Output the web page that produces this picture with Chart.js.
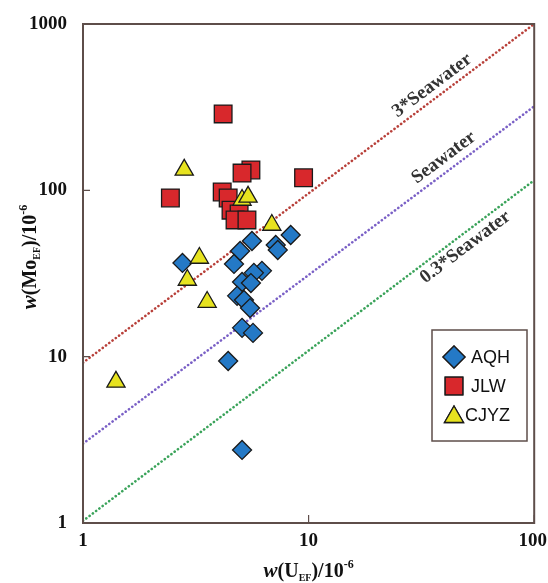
<!DOCTYPE html>
<html>
<head>
<meta charset="utf-8">
<script src="https://cdn.jsdelivr.net/npm/chart.js@4.4.1/dist/chart.umd.min.js"></script>
<style>
  html, body { margin: 0; padding: 0; background: #fff; }
</style>
</head>
<body>
<canvas id="chart" width="548" height="583"></canvas>
<script>
// AQH (diamonds)
const aqhU  = [5.61, 4.97, 4.67, 8.33, 7.15, 7.30, 2.76, 6.21, 5.72, 5.07, 5.55, 4.82, 5.17, 5.50, 5.07, 5.67, 4.40, 5.07];
const aqhMo = [49.6, 43.2, 36.1, 53.9, 46.9, 43.8, 36.6, 32.8, 31.9, 28.1, 27.7, 23.2, 21.9, 19.6, 14.9, 13.9, 9.42, 2.75];
// JLW (squares)
const jlwU  = [4.18, 2.44, 5.55, 5.07, 9.5, 4.14, 4.40, 4.53, 4.92, 4.72, 5.33];
const jlwMo = [288, 90, 132.6, 127, 119, 97.8, 90, 76, 72.1, 66.4, 66.4];
// CJYZ (triangles)
const cjyzU  = [2.81, 5.07, 5.39, 6.87, 3.28, 2.90, 3.55, 1.40];
const cjyzMo = [132.7, 87.5, 91.3, 61.9, 39.2, 28.9, 21.3, 7.05];

// reference lines
const lineU = [1, 100];
const sw3Mo = [9.2, 1000];
const swMo = [3.0, 320];
const sw03Mo = [1.03, 115];

const xTicks = [1, 10, 100];
const yTicks = [1, 10, 100, 1000];

const frameColor = '#5e4e4a';
const serif = '"Liberation Serif", "DejaVu Serif", serif';

function pts(xs, ys) {
    return xs.map((x, i) => ({ x: x, y: ys[i] }));
}

function lineSet(ys, color) {
    return {
        type: 'line',
        data: pts(lineU, ys),
        borderColor: color,
        borderWidth: 2.6,
        borderDash: [0.1, 4],
        borderCapStyle: 'round',
        pointRadius: 0,
        fill: false
    };
}

// draws text parts with sub/superscripts, centered at (cx, cy)
function drawRich(ctx, parts, cx, cy) {
    let total = 0;
    parts.forEach(p => { ctx.font = p.font; total += ctx.measureText(p.text).width; });
    let x = cx - total / 2;
    ctx.textAlign = 'left';
    ctx.textBaseline = 'alphabetic';
    parts.forEach(p => {
        ctx.font = p.font;
        ctx.fillText(p.text, x, cy + (p.dy || 0));
        x += ctx.measureText(p.text).width;
    });
}

function titleParts(el) {
    return [
        { text: 'w', font: 'italic bold 21px ' + serif },
        { text: '(' + el, font: 'bold 20px ' + serif },
        { text: 'EF', font: 'bold 10px ' + serif, dy: 4 },
        { text: ')/10', font: 'bold 20px ' + serif },
        { text: '-6', font: 'bold 12px ' + serif, dy: -9 }
    ];
}

const decorPlugin = {
    id: 'decor',
    afterDatasetsDraw(chart) {
        const ctx = chart.ctx;
        const a = chart.chartArea;
        const xs = chart.scales.x, ys = chart.scales.y;
        ctx.save();
        // frame
        ctx.strokeStyle = frameColor;
        ctx.lineWidth = 2;
        ctx.strokeRect(a.left, a.top, a.right - a.left, a.bottom - a.top);
        // inward ticks
        ctx.lineWidth = 1.2;
        ctx.beginPath();
        xTicks.forEach(v => {
            const px = xs.getPixelForValue(v);
            ctx.moveTo(px, a.bottom);
            ctx.lineTo(px, a.bottom - 8);
        });
        yTicks.forEach(v => {
            const py = ys.getPixelForValue(v);
            ctx.moveTo(a.left, py);
            ctx.lineTo(a.left + 7, py);
        });
        ctx.stroke();

        // x tick labels
        ctx.fillStyle = '#111';
        ctx.font = 'bold 19px ' + serif;
        ctx.textBaseline = 'middle';
        ctx.textAlign = 'center';
        xTicks.forEach(v => {
            const label = String(v);
            const w = ctx.measureText(label).width;
            let px = xs.getPixelForValue(v);
            px = Math.min(px, chart.width - w / 2 - 1);
            ctx.fillText(label, px, a.bottom + 18);
        });

        // line labels, placed along each line
        const labels = [
            { ys: sw3Mo, text: '3*Seawater', at: 38, off: 12 },
            { ys: swMo, text: 'Seawater', at: 43, off: 13 },
            { ys: sw03Mo, text: '0.3*Seawater', at: 46, off: -12 }
        ];
        ctx.fillStyle = '#333';
        ctx.font = 'bold 19px ' + serif;
        labels.forEach(l => {
            const x1 = xs.getPixelForValue(lineU[0]), y1 = ys.getPixelForValue(l.ys[0]);
            const x2 = xs.getPixelForValue(lineU[1]), y2 = ys.getPixelForValue(l.ys[1]);
            const ang = Math.atan2(y2 - y1, x2 - x1);
            const px = xs.getPixelForValue(l.at);
            const t = (px - x1) / (x2 - x1);
            const py = y1 + t * (y2 - y1);
            ctx.save();
            ctx.translate(px + Math.sin(ang) * l.off, py - Math.cos(ang) * l.off);
            ctx.rotate(ang);
            ctx.textAlign = 'center';
            ctx.textBaseline = 'middle';
            ctx.fillText(l.text, 0, 0);
            ctx.restore();
        });

        // axis titles
        ctx.fillStyle = '#111';
        drawRich(ctx, titleParts('U'), (a.left + a.right) / 2, 577);
        ctx.save();
        ctx.translate(36, 257);
        ctx.rotate(-Math.PI / 2);
        drawRich(ctx, titleParts('Mo'), 0, 0);
        ctx.restore();

        // legend
        const lx = 432, ly = 330, lw = 95, lh = 111;
        ctx.fillStyle = '#fff';
        ctx.fillRect(lx, ly, lw, lh);
        ctx.strokeStyle = frameColor;
        ctx.lineWidth = 1.5;
        ctx.strokeRect(lx, ly, lw, lh);
        const items = [
            { text: 'AQH', ds: chart.data.datasets[2], y: 357 },
            { text: 'JLW', ds: chart.data.datasets[1], y: 386 },
            { text: 'CJYZ', ds: chart.data.datasets[0], y: 415 }
        ];
        items.forEach(it => {
            Chart.helpers.drawPoint(ctx, {
                pointStyle: it.ds.pointStyle,
                radius: it.ds.pointStyle === 'rect' ? 12.5 : 11,
                borderWidth: 1.3,
                rotation: 0
            }, 454, it.y + (it.ds.pointStyle === 'triangle' ? 2 : 0));
            ctx.fillStyle = it.ds.backgroundColor;
            ctx.strokeStyle = '#1a1a1a';
            ctx.lineWidth = 1.3;
            ctx.fill();
            ctx.stroke();
            ctx.fillStyle = '#111';
            ctx.font = '18px "Liberation Sans", Arial, sans-serif';
            ctx.textAlign = 'left';
            ctx.textBaseline = 'middle';
            ctx.fillText(it.text, it.ds.pointStyle === 'triangle' ? 465 : 471, it.y + 1);
        });
        ctx.restore();
    }
};

new Chart(document.getElementById('chart'), {
    type: 'scatter',
    data: {
        datasets: [
            {
                label: 'CJYZ',
                data: pts(cjyzU, cjyzMo),
                pointStyle: 'triangle',
                pointRadius: 10.5,
                backgroundColor: '#e7e31f',
                borderColor: '#1a1a1a',
                borderWidth: 1.3
            },
            {
                label: 'JLW',
                data: pts(jlwU, jlwMo),
                pointStyle: 'rect',
                pointRadius: 12.5,
                backgroundColor: '#d8282c',
                borderColor: '#1a1a1a',
                borderWidth: 1.3
            },
            {
                label: 'AQH',
                data: pts(aqhU, aqhMo),
                pointStyle: 'rectRot',
                pointRadius: 9.5,
                backgroundColor: '#2479c6',
                borderColor: '#1a1a1a',
                borderWidth: 1.3
            },
            lineSet(sw3Mo, '#b8403a'),
            lineSet(swMo, '#7a60c6'),
            lineSet(sw03Mo, '#3aa35a')
        ]
    },
    options: {
        responsive: false,
        animation: false,
        layout: { padding: { top: 24, right: 11, left: 0, bottom: 0 } },
        plugins: {
            legend: { display: false },
            tooltip: { enabled: false }
        },
        scales: {
            x: {
                type: 'logarithmic',
                min: 1,
                max: 100,
                grid: { display: false },
                border: { display: false },
                ticks: { display: false },
                afterBuildTicks: s => { s.ticks = xTicks.map(v => ({ value: v })); },
                afterFit: s => { s.height = 60; s.paddingLeft = 0; s.paddingRight = 0; }
            },
            y: {
                type: 'logarithmic',
                min: 1,
                max: 1000,
                grid: { display: false },
                border: { display: false },
                ticks: {
                    color: '#111',
                    padding: 8,
                    font: { family: serif, size: 19, weight: 'bold' },
                    callback: v => String(v)
                },
                afterBuildTicks: s => { s.ticks = yTicks.map(v => ({ value: v })); },
                afterFit: s => { s.width = 83; }
            }
        }
    },
    plugins: [decorPlugin]
});
</script>
</body>
</html>
